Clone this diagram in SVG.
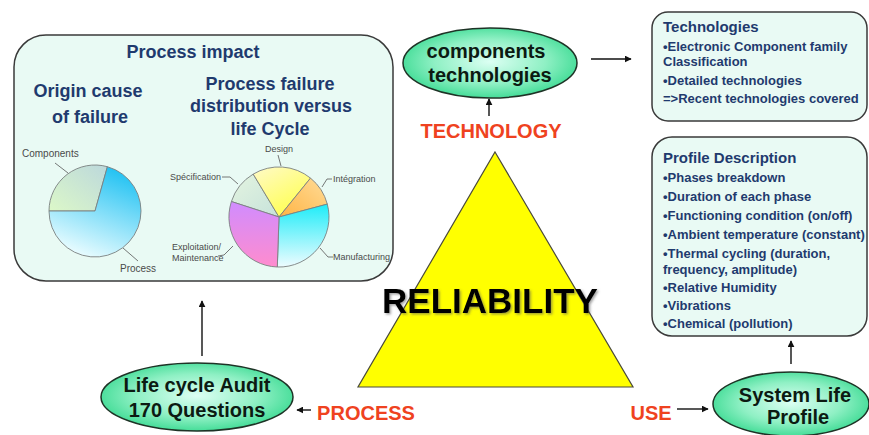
<svg xmlns="http://www.w3.org/2000/svg" width="869" height="435" viewBox="0 0 869 435">
  <style>
    text { font-family: "Liberation Sans", Arial, sans-serif; }
    .panel { fill: #e9faf4; stroke: #3a3a3a; stroke-width: 1.5; }
    .oval { fill: url(#ovalFill); stroke: #1e3326; stroke-width: 1.5; }
    .oval-text { font-size: 20px; font-weight: bold; fill: #0c1a12; text-anchor: middle; }
    .head { font-size: 18px; font-weight: bold; fill: #1f3a6e; text-anchor: middle; }
    .box-title { font-size: 15px; font-weight: bold; fill: #1f3a6e; }
    .item { font-size: 13px; font-weight: bold; fill: #1f3a6e; }
    .corner { font-size: 20px; font-weight: bold; fill: #ef4220; text-anchor: middle; }
    .pie-label { font-size: 9px; fill: #4a4a4a; }
    .pie-label.big { font-size: 10px; }
    .slice { stroke: #7a8080; stroke-width: 0.9; }
    .leader { fill: none; stroke: #555; stroke-width: 0.8; }
    .link { stroke: #111; stroke-width: 1.4; fill: none; marker-end: url(#arrow); }
  </style>
  <defs>
    <marker id="arrow" viewBox="0 0 10 10" refX="9" refY="5" markerWidth="7" markerHeight="7" markerUnits="userSpaceOnUse" orient="auto">
      <path d="M0,0 L10,5 L0,10 Z" fill="#111"/>
    </marker>
    <radialGradient id="ovalFill" cx="50%" cy="48%" r="58%">
      <stop offset="0" stop-color="#dcfff3"/>
      <stop offset="0.55" stop-color="#8ff0c4"/>
      <stop offset="1" stop-color="#2fd78b"/>
    </radialGradient>
    <linearGradient id="gComp" x1="0" y1="1" x2="1" y2="0">
      <stop offset="0" stop-color="#dcf8c8"/>
      <stop offset="1" stop-color="#bcd8dc"/>
    </linearGradient>
    <linearGradient id="gProc" x1="0.75" y1="0" x2="0.35" y2="1">
      <stop offset="0" stop-color="#1cc0f2"/>
      <stop offset="1" stop-color="#ecfdff"/>
    </linearGradient>
    <linearGradient id="gSpec" x1="0" y1="0" x2="1" y2="1">
      <stop offset="0" stop-color="#e4f4e0"/>
      <stop offset="1" stop-color="#c6e2da"/>
    </linearGradient>
    <linearGradient id="gDesign" x1="0" y1="0" x2="0.6" y2="1">
      <stop offset="0" stop-color="#fffac8"/>
      <stop offset="1" stop-color="#ffff50"/>
    </linearGradient>
    <linearGradient id="gInteg" x1="1" y1="0" x2="0" y2="1">
      <stop offset="0" stop-color="#ffdc98"/>
      <stop offset="1" stop-color="#ffb444"/>
    </linearGradient>
    <linearGradient id="gManu" x1="0" y1="0" x2="0" y2="1">
      <stop offset="0" stop-color="#1eecf8"/>
      <stop offset="1" stop-color="#eefcff"/>
    </linearGradient>
    <linearGradient id="gExpl" x1="0" y1="0" x2="0" y2="1">
      <stop offset="0" stop-color="#d08cff"/>
      <stop offset="1" stop-color="#ff8cce"/>
    </linearGradient>
    <filter id="soft" x="-5%" y="-20%" width="115%" height="150%">
      <feDropShadow dx="1.5" dy="1.5" stdDeviation="1" flood-color="#555" flood-opacity="0.55"/>
    </filter>
  </defs>

  <rect width="869" height="435" fill="#ffffff"/>

  <!-- central triangle -->
  <g id="reliability">
    <polygon points="495,152 633,387 358,387" fill="#ffff00" stroke="#4a4a3a" stroke-width="1.2"/>
    <text x="490" y="313" font-size="35" font-weight="bold" fill="#000" text-anchor="middle" filter="url(#soft)">RELIABILITY</text>
  </g>

  <!-- corner labels -->
  <g id="technology-label"><text class="corner" x="491" y="138">TECHNOLOGY</text></g>
  <g id="process-label"><text class="corner" x="366" y="420">PROCESS</text></g>
  <g id="use-label"><text class="corner" x="651" y="420">USE</text></g>

  <!-- process impact panel with both pie charts -->
  <g id="process-impact">
    <rect class="panel" x="14" y="35" width="379" height="246" rx="32" ry="32"/>
    <text class="head" x="193" y="58">Process impact</text>
    <text class="head" x="88" y="97">Origin cause</text>
    <text class="head" x="90" y="123">of failure</text>
    <text class="head" x="270" y="90">Process failure</text>
    <text class="head" x="271" y="112">distribution versus</text>
    <text class="head" x="270" y="135">life Cycle</text>

    <g id="pie-origin">
      <path class="slice" fill="url(#gComp)" d="M95,211 L49,211 A46,46 0 0 1 107.4,166.7 Z"/>
      <path class="slice" fill="url(#gProc)" d="M95,211 L107.4,166.7 A46,46 0 1 1 49,211 Z"/>
      <polyline class="leader" points="55,163 68,173"/>
      <polyline class="leader" points="123,248 138,261"/>
      <text class="pie-label big" x="22" y="157">Components</text>
      <text class="pie-label big" x="120" y="272">Process</text>
    </g>

    <g id="pie-lifecycle">
      <path class="slice" fill="url(#gSpec)" d="M279,217 L231.4,201.5 A50,50 0 0 1 253.2,174.1 Z"/>
      <path class="slice" fill="url(#gDesign)" d="M279,217 L253.2,174.1 A50,50 0 0 1 310.5,178.1 Z"/>
      <path class="slice" fill="url(#gInteg)" d="M279,217 L310.5,178.1 A50,50 0 0 1 327.3,204.1 Z"/>
      <path class="slice" fill="url(#gManu)" d="M279,217 L327.3,204.1 A50,50 0 0 1 277.3,267 Z"/>
      <path class="slice" fill="url(#gExpl)" d="M279,217 L277.3,267 A50,50 0 0 1 231.4,201.5 Z"/>
      <polyline class="leader" points="278,155 281,166"/>
      <polyline class="leader" points="222,177 230,177 238,184"/>
      <polyline class="leader" points="332,179 327,179 322,187"/>
      <polyline class="leader" points="333,257 328,257 320,248"/>
      <polyline class="leader" points="218,256 224,255 233,246"/>
      <text class="pie-label" x="279" y="152" text-anchor="middle">Design</text>
      <text class="pie-label" x="170" y="180">Spécification</text>
      <text class="pie-label" x="333" y="182">Intégration</text>
      <text class="pie-label" x="333" y="260">Manufacturing</text>
      <text class="pie-label" x="172" y="250">Exploitation/</text>
      <text class="pie-label" x="172" y="261">Maintenance</text>
    </g>
  </g>

  <!-- top oval -->
  <g id="components-technologies">
    <ellipse class="oval" cx="490" cy="63" rx="87" ry="35"/>
    <text class="oval-text" x="486" y="58">components</text>
    <text class="oval-text" x="490" y="82">technologies</text>
  </g>

  <!-- technologies panel -->
  <g id="technologies">
    <rect class="panel" x="652" y="12" width="215" height="109" rx="16" ry="16"/>
    <text class="box-title" x="663" y="32">Technologies</text>
    <text class="item" x="663" y="51">•Electronic Component family</text>
    <text class="item" x="663" y="66">Classification</text>
    <text class="item" x="663" y="85">•Detailed technologies</text>
    <text class="item" x="663" y="103">=&gt;Recent technologies covered</text>
  </g>

  <!-- profile description panel -->
  <g id="profile-description">
    <rect class="panel" x="652" y="137" width="215" height="199" rx="20" ry="20"/>
    <text class="box-title" x="663" y="163">Profile Description</text>
    <text class="item" x="663" y="182">•Phases breakdown</text>
    <text class="item" x="663" y="201">•Duration of each phase</text>
    <text class="item" x="663" y="220">•Functioning condition (on/off)</text>
    <text class="item" x="663" y="239">•Ambient temperature (constant)</text>
    <text class="item" x="663" y="258">•Thermal cycling  (duration,</text>
    <text class="item" x="663" y="274">frequency, amplitude)</text>
    <text class="item" x="663" y="292">•Relative Humidity</text>
    <text class="item" x="663" y="310">•Vibrations</text>
    <text class="item" x="663" y="328">•Chemical (pollution)</text>
  </g>

  <!-- bottom ovals -->
  <g id="life-cycle-audit">
    <ellipse class="oval" cx="197" cy="397" rx="96" ry="34"/>
    <text class="oval-text" x="197" y="392">Life cycle Audit</text>
    <text class="oval-text" x="197" y="417">170 Questions</text>
  </g>

  <g id="system-life-profile">
    <ellipse class="oval" cx="791" cy="404" rx="78" ry="32"/>
    <text class="oval-text" x="795" y="402">System Life</text>
    <text class="oval-text" x="798" y="424">Profile</text>
  </g>

  <!-- connectors -->
  <g id="connectors">
    <line class="link" x1="489" y1="116" x2="489" y2="99"/>
    <line class="link" x1="591" y1="59" x2="631" y2="59"/>
    <line class="link" x1="202" y1="356" x2="202" y2="301"/>
    <line class="link" x1="311" y1="410" x2="297" y2="410"/>
    <line class="link" x1="677" y1="409" x2="708" y2="409"/>
    <line class="link" x1="791" y1="364" x2="791" y2="341"/>
  </g>
</svg>
